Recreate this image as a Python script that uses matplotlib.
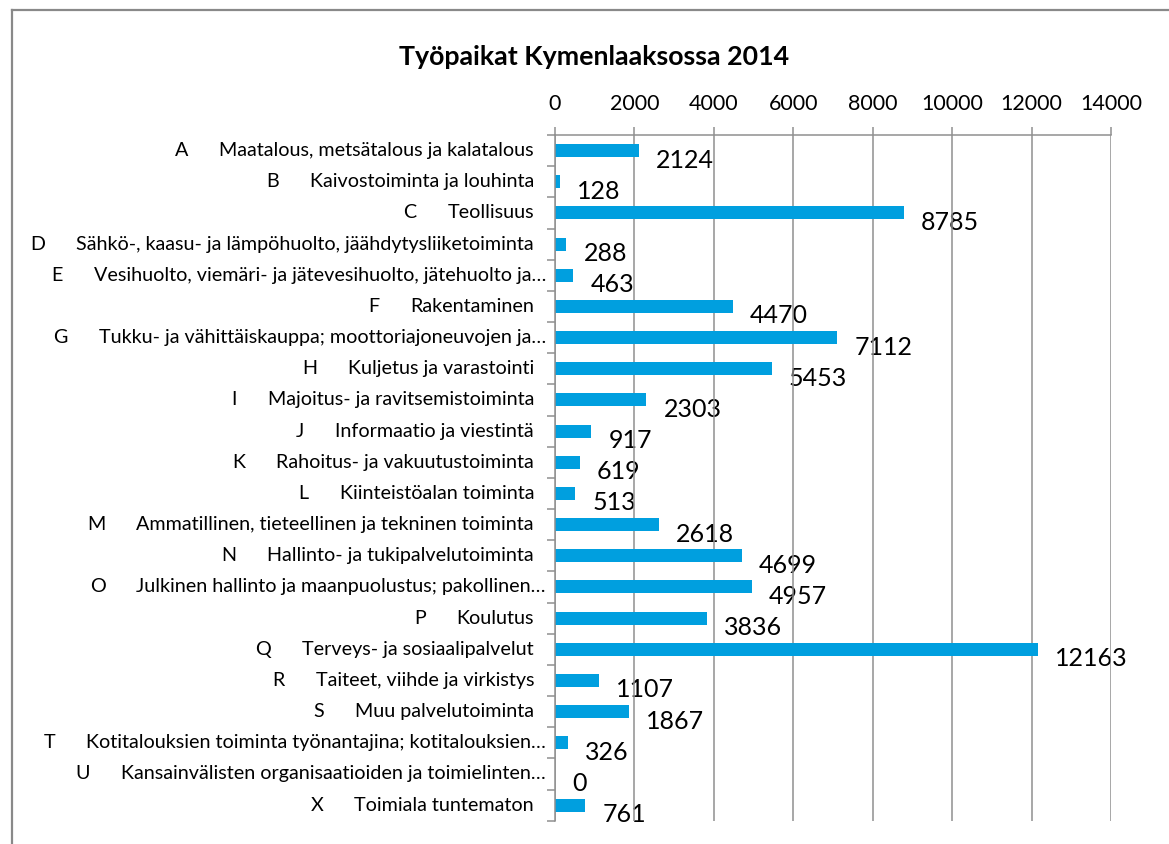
import matplotlib
matplotlib.use("Agg")
import matplotlib.pyplot as plt
from matplotlib.lines import Line2D
from matplotlib.transforms import blended_transform_factory
import numpy as np

letters = ["A", "B", "C", "D", "E", "F", "G", "H", "I", "J", "K", "L",
           "M", "N", "O", "P", "Q", "R", "S", "T", "U", "X"]
names = [
    "Maatalous, metsätalous ja kalatalous",
    "Kaivostoiminta ja louhinta",
    "Teollisuus",
    "Sähkö-, kaasu- ja lämpöhuolto, jäähdytysliiketoiminta",
    "Vesihuolto, viemäri- ja jätevesihuolto, jätehuolto ja…",
    "Rakentaminen",
    "Tukku- ja vähittäiskauppa; moottoriajoneuvojen ja…",
    "Kuljetus ja varastointi",
    "Majoitus- ja ravitsemistoiminta",
    "Informaatio ja viestintä",
    "Rahoitus- ja vakuutustoiminta",
    "Kiinteistöalan toiminta",
    "Ammatillinen, tieteellinen ja tekninen toiminta",
    "Hallinto- ja tukipalvelutoiminta",
    "Julkinen hallinto ja maanpuolustus; pakollinen…",
    "Koulutus",
    "Terveys- ja sosiaalipalvelut",
    "Taiteet, viihde ja virkistys",
    "Muu palvelutoiminta",
    "Kotitalouksien toiminta työnantajina; kotitalouksien…",
    "Kansainvälisten organisaatioiden ja toimielinten…",
    "Toimiala tuntematon",
]
values = [2124, 128, 8785, 288, 463, 4470, 7112, 5453, 2303, 917, 619, 513,
          2618, 4699, 4957, 3836, 12163, 1107, 1867, 326, 0, 761]
xticks = [0, 2000, 4000, 6000, 8000, 10000, 12000, 14000]
title = "Työpaikat Kymenlaaksossa 2014"

plt.rcParams['font.family'] = ['Lato', 'DejaVu Sans']

W, H = 1169, 844
fig = plt.figure(figsize=(W / 100, H / 100), dpi=100)
ax = fig.add_axes([555 / W, 1 - 820.7 / H, (1111 - 555) / W, (820.7 - 135) / H])

grid_col = "#8f8f8f"
bar_col = "#009FDF"

y = np.arange(len(values))
ax.barh(y, values, height=0.42, color=bar_col, zorder=2)
ax.set_xlim(0, 14000)
ax.set_ylim(len(values) - 0.5, -0.5)

ax.xaxis.tick_top()
ax.set_xticks(xticks)
ax.set_xticklabels([str(v) for v in xticks], fontsize=15.5)
ax.tick_params(axis='x', which='major', direction='out', length=6, width=1.1,
               color=grid_col, pad=9)
ax.set_yticks(np.arange(-0.5, len(values), 1.0))
ax.set_yticklabels([])
ax.tick_params(axis='y', which='major', direction='out', length=6, width=1.1,
               color=grid_col)
ax.grid(axis='x', color=grid_col, linewidth=1.1)
ax.set_axisbelow('line')
for s in ['right', 'bottom']:
    ax.spines[s].set_visible(False)
for s in ['top', 'left']:
    ax.spines[s].set_color(grid_col)
    ax.spines[s].set_linewidth(1.1)

# data labels
for i, v in enumerate(values):
    ax.annotate(str(v), xy=(v, i), xytext=(17, -9.5), textcoords='offset pixels',
                ha='left', va='center', fontsize=18, zorder=1,
                annotation_clip=False, clip_on=False)

# category labels
tr = blended_transform_factory(fig.transFigure, ax.transData)
for i, (L, n) in enumerate(zip(letters, names)):
    xr = 546 if n.endswith("…") else 534
    t = ax.text(xr / W, i, n, transform=tr, ha='right', va='center',
                fontsize=14.2, clip_on=False)
    ax.annotate(L, xy=(0, 0.5), xycoords=t, xytext=(-31, 0),
                textcoords='offset pixels', ha='right', va='center',
                fontsize=14.2, annotation_clip=False)

fig.text(594 / W, 1 - 57 / H, title, ha='center', va='center',
         fontsize=19.3, fontweight='bold')

# chart border (top and left visible)
fig.add_artist(Line2D([12 / W, 1.0], [1 - 10 / H, 1 - 10 / H],
                      transform=fig.transFigure, color="#898989", lw=1.6))
fig.add_artist(Line2D([12 / W, 12 / W], [0.0, 1 - 10 / H],
                      transform=fig.transFigure, color="#898989", lw=1.6))

fig.savefig("out.png", dpi=100)
